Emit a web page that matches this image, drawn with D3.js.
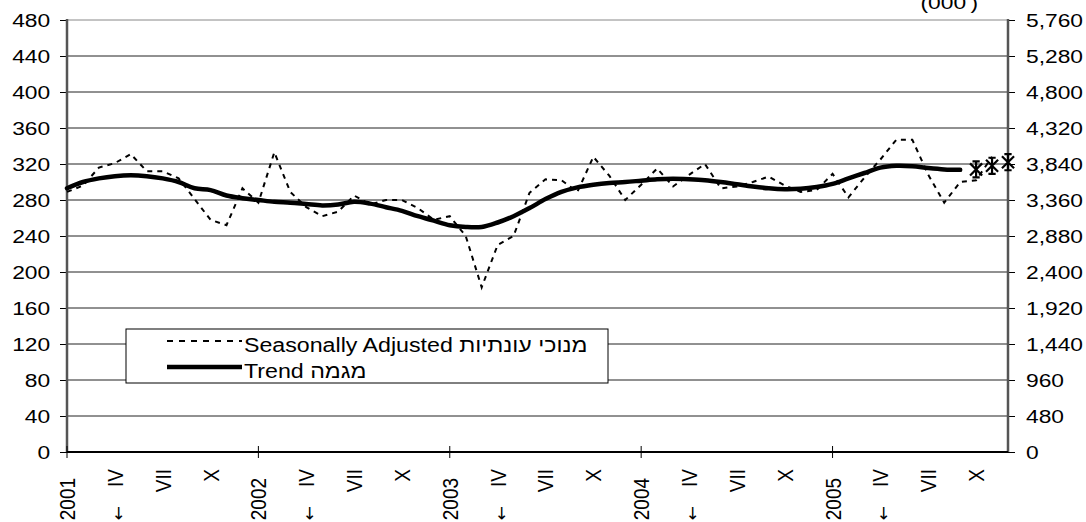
<!DOCTYPE html>
<html>
<head>
<meta charset="utf-8">
<script src="https://cdn.jsdelivr.net/npm/d3@7"></script>
<style>
    body { margin: 0; background: #fff; }
    svg text { font-family: "Liberation Sans", Arial, sans-serif; fill: #000; }
</style>
</head>
<body>
<div id="chart"></div>
<script>
// monthly, Jan 2001 .. Dec 2005
const years = ['2001', '2002', '2003', '2004', '2005'];
const quarterMarks = ['IV', 'VII', 'X'];

const seasonallyAdjusted = [
    289, 296, 316, 321, 331, 312, 312, 304, 281, 258, 252, 293,
    277, 333, 289, 272, 262, 267, 285, 275, 280, 280, 271, 258,
    262, 240, 183, 230, 240, 288, 303, 302, 289, 328, 307, 280,
    297, 315, 295, 308, 320, 293, 295, 300, 306, 296, 289, 291,
    309, 283, 305, 325, 347, 347, 308, 277, 300, 302, 328
];
const trend = [
    293, 300, 304, 306.5, 307.5, 306.5, 304, 300, 293, 291, 285, 282,
    280, 278, 277, 275.5, 274, 275, 278, 276, 272, 268, 262, 257,
    252, 250, 250, 255, 262, 271, 281, 289, 294, 297, 299, 300,
    301.5, 303, 303.5, 303, 302, 300, 297.5, 295, 293, 292, 292.5, 294.5,
    298, 304, 310, 316, 318, 317.5, 315.5, 314, 313.5
];
// trend estimates for the last three months
const trendForecast = [314, 318, 322];

const leftTicks = d3.range(0, 481, 40);
const legendItems = [
    { label: 'Seasonally Adjusted מנוכי עונתיות', dash: '6,6', width: 2.2 },
    { label: 'Trend מגמה', dash: null, width: 4.5 }
];

(function () {
    'strict mode';

    let width = 1086, height = 522;
    let left = 67, right = 1008, top = 20, bottom = 452;
    let nMonths = years.length * 12;
    let stretch = 1.2; // the reference text is drawn wide

    let svg = d3.select('#chart').append('svg')
        .attr('width', width)
        .attr('height', height);

    let x = d3.scaleLinear().domain([0, nMonths - 1]).range([left, right]);
    let y = d3.scaleLinear().domain([0, 480]).range([bottom, top]);
    let y2 = d3.scaleLinear().domain([0, 5760]).range([bottom, top]);

    // gridlines
    svg.append('g').selectAll('line')
        .data(leftTicks.filter(d => d > 0))
        .enter().append('line')
        .attr('x1', left).attr('x2', right)
        .attr('y1', d => y(d)).attr('y2', d => y(d))
        .style('stroke', d => d == 480 ? '#888' : '#222')
        .style('stroke-width', 1);

    let leftAxis = svg.append('g')
        .attr('transform', 'translate(' + left + ',0)')
        .call(d3.axisLeft(y).tickValues(leftTicks).tickSize(7).tickPadding(7));
    let rightAxis = svg.append('g')
        .attr('transform', 'translate(' + right + ',0)')
        .call(d3.axisRight(y2).tickValues(leftTicks.map(d => d * 12))
            .tickSize(7).tickPadding(8).tickFormat(d3.format(',')));
    [leftAxis, rightAxis].forEach(function (g) {
        g.select('.domain').remove();
        g.selectAll('text')
            .style('font-size', '19px')
            .attr('transform', 'scale(' + stretch + ',1)');
        g.selectAll('line').style('stroke', '#000');
    });
    svg.append('line')
        .attr('x1', left).attr('x2', left).attr('y1', top - 1).attr('y2', bottom)
        .style('stroke', '#555').style('stroke-width', 2.5);
    svg.append('line')
        .attr('x1', right).attr('x2', right).attr('y1', top - 1).attr('y2', bottom)
        .style('stroke', '#555').style('stroke-width', 2.5);

    // x axis: year ticks only, roman numerals between
    svg.append('line')
        .attr('x1', left).attr('x2', right).attr('y1', bottom).attr('y2', bottom)
        .style('stroke', '#000').style('stroke-width', 2);
    svg.append('g').selectAll('line')
        .data(years.map((d, i) => i * 12))
        .enter().append('line')
        .attr('x1', d => x(d)).attr('x2', d => x(d))
        .attr('y1', bottom - 6).attr('y2', bottom + 6)
        .style('stroke', '#000');

    let monthLabels = [];
    years.forEach(function (yr, i) {
        monthLabels.push({ m: i * 12, text: yr, top: 478 });
        quarterMarks.forEach(function (q, j) {
            monthLabels.push({ m: i * 12 + 3 * (j + 1), text: q, top: 469 });
        });
    });
    svg.append('g').selectAll('text')
        .data(monthLabels)
        .enter().append('text')
        .attr('transform', d => 'translate(' + x(d.m) + ',' + d.top + ') rotate(-90) scale(1,' + stretch + ')')
        .attr('dy', '0.35em')
        .attr('text-anchor', 'end')
        .style('font-size', '19px')
        .text(d => d.text);
    svg.append('g').selectAll('text')
        .data(years.map((d, i) => i * 12 + 3))
        .enter().append('text')
        .attr('transform', d => 'translate(' + (x(d) + 3) + ',506) rotate(-90)')
        .attr('dy', '0.35em')
        .attr('text-anchor', 'end')
        .style('font-family', 'DejaVu Sans')
        .style('font-size', '17px')
        .text('←');

    svg.append('text')
        .attr('transform', 'translate(978,9) scale(' + stretch + ',1)')
        .attr('text-anchor', 'end')
        .style('font-size', '19px')
        .text("(000')");

    // series
    let saLine = d3.line()
        .x((d, i) => x(i))
        .y(d => y(d));
    svg.append('path')
        .datum(seasonallyAdjusted)
        .attr('d', saLine)
        .style('fill', 'none')
        .style('stroke', '#000')
        .style('stroke-width', 2)
        .style('stroke-dasharray', '5,5');

    let trendLine = d3.line()
        .x((d, i) => x(i))
        .y(d => y(d))
        .curve(d3.curveCatmullRom);
    svg.append('path')
        .datum(trend)
        .attr('d', trendLine)
        .style('fill', 'none')
        .style('stroke', '#000')
        .style('stroke-width', 4.5)
        .style('stroke-linecap', 'round');

    // asterisk marker: vertical bar plus X
    let star = {
        draw: function (ctx, size) {
            let r = Math.sqrt(size) / 2;
            let k = r * 0.75;
            ctx.moveTo(0, -r); ctx.lineTo(0, r);
            ctx.moveTo(-k, -k); ctx.lineTo(k, k);
            ctx.moveTo(-k, k); ctx.lineTo(k, -k);
            ctx.moveTo(-k * 0.6, -r); ctx.lineTo(k * 0.6, -r);
            ctx.moveTo(-k * 0.6, r); ctx.lineTo(k * 0.6, r);
        }
    };
    svg.append('g').selectAll('path')
        .data(trendForecast)
        .enter().append('path')
        .attr('transform', (d, i) => 'translate(' + x(trend.length + i) + ',' + y(d) + ')')
        .attr('d', d3.symbol().type(star).size(260))
        .style('fill', 'none')
        .style('stroke', '#000')
        .style('stroke-width', 2.2);

    // legend
    let legend = svg.append('g').attr('transform', 'translate(126,329)');
    legend.append('rect')
        .attr('width', 482).attr('height', 54)
        .style('fill', '#fff')
        .style('stroke', '#000')
        .style('stroke-width', 1);
    let rows = legend.selectAll('g.row')
        .data(legendItems)
        .enter().append('g')
        .attr('class', 'row')
        .attr('transform', (d, i) => 'translate(0,' + (12 + i * 26) + ')');
    rows.append('line')
        .attr('x1', 41).attr('x2', 116)
        .style('stroke', '#000')
        .style('stroke-width', d => d.width)
        .style('stroke-dasharray', d => d.dash);
    rows.append('text')
        .attr('transform', 'translate(118,11) scale(1.16,1)')
        .style('font-size', '20px')
        .text(d => d.label);
})();
</script>
</body>
</html>
